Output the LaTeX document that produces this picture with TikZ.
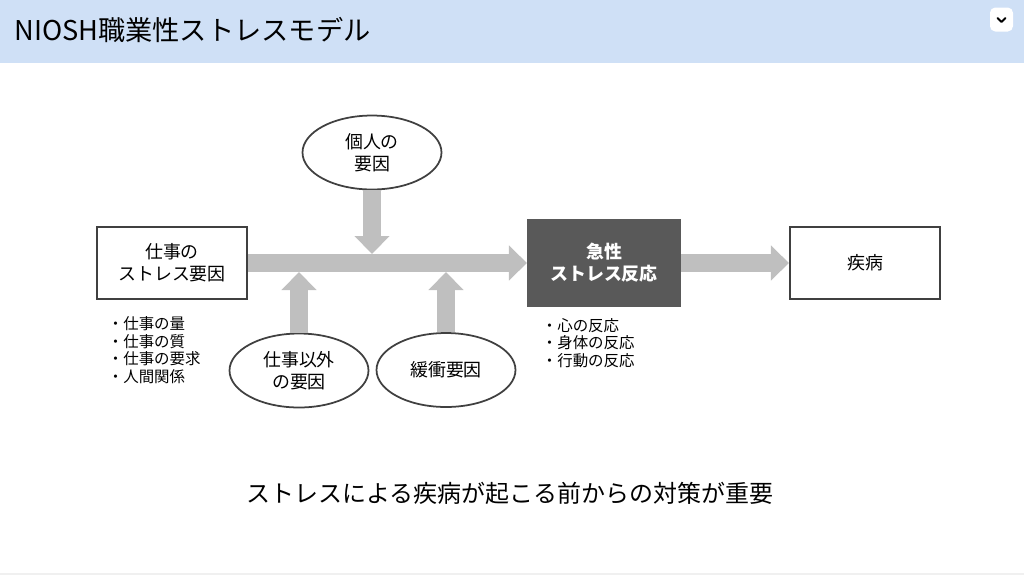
\documentclass[tikz,border=0pt]{standalone}
\usepackage{fontspec}
\setmainfont{Noto Sans CJK JP}
\usetikzlibrary{positioning,arrows.meta,shapes.geometric}

\definecolor{headblue}{HTML}{CFE0F6}
\definecolor{flowgray}{HTML}{BFBFBF}
\definecolor{edgegray}{HTML}{404040}
\definecolor{acutegray}{HTML}{595959}

\tikzset{
  box/.style={draw=edgegray, line width=1.2pt, fill=white, rectangle, align=center,
    minimum width=3.0cm, minimum height=1.44cm, font=\fontsize{10.2}{12.5}\selectfont},
  factor/.style={draw=edgegray, line width=1pt, fill=white, ellipse, align=center, inner sep=0pt,
    minimum width=2.78cm, minimum height=1.48cm, font=\fontsize{10.2}{12.5}\selectfont},
  itemlist/.style={align=left, inner sep=0pt, anchor=west, font=\fontsize{8.8}{10.1}\selectfont},
  flow/.style={draw=flowgray, line width=0.37cm, -{Triangle[length=0.36cm, width=0.68cm]}}
}

\begin{document}
\begin{tikzpicture}[x=0.02cm, y=-0.02cm]
    \useasboundingbox (0,0) rectangle (1024,576);
    % header band
    \fill[headblue] (0,0) rectangle (1024,63);
    \node [anchor=west, inner sep=0pt, font=\fontsize{15.5}{18}\selectfont] (title) at (14,30) {NIOSH職業性ストレスモデル};
    \node [fill=white, rounded corners=3pt, minimum width=0.46cm, minimum height=0.48cm, inner sep=0pt] (menu) at (1001.5,19.5) {};
    \draw [line width=1.1pt, line cap=round, line join=round] ([xshift=-0.08cm, yshift=0.03cm]menu.center) -- ++(4,4) -- ++(4,-4);
    \draw [black!6, line width=0.6pt] (0,574) -- (1024,574);

    % boxes
    \node [box] (stress) at (172,263) {仕事の\\ストレス要因};
    \node [box, draw=acutegray, fill=acutegray, text=white, minimum width=3.04cm, minimum height=1.7cm,
           font=\fontsize{10.2}{12.5}\selectfont\bfseries] (acute) at (604,263) {急性\\ストレス反応};
    \node [box] (disease) at (865,263) {疾病};

    % factors
    \node [factor] (personal) at (372,152.5) {個人の\\要因};
    \node [factor] (nonwork) at (299,370.5) {仕事以外\\の要因};
    \node [factor] (buffer) at (446,370) {緩衝要因};

    % lists
    \node [itemlist] (worklist) at (107.5,350) {・仕事の量\\・仕事の質\\・仕事の要求\\・人間関係};
    \node [itemlist] (reactlist) at (541.5,343) {・心の反応\\・身体の反応\\・行動の反応};

    % flow arrows
    \coordinate (shafttop) at ([yshift=0.18cm]stress.east);
    \coordinate (shaftbot) at ([yshift=-0.18cm]stress.east);
    \draw [flow] (stress.east) -- (acute.west);
    \draw [flow] (acute.east) -- (disease.west);
    \draw [flow] (personal.south) -- (personal.south |- shafttop);
    \draw [flow] (nonwork.north) -- (nonwork.north |- shaftbot);
    \draw [flow] (buffer.north) -- (buffer.north |- shaftbot);

    \node [font=\fontsize{13.65}{16}\selectfont] (message) at (510,493) {ストレスによる疾病が起こる前からの対策が重要};
\end{tikzpicture}
\end{document}
